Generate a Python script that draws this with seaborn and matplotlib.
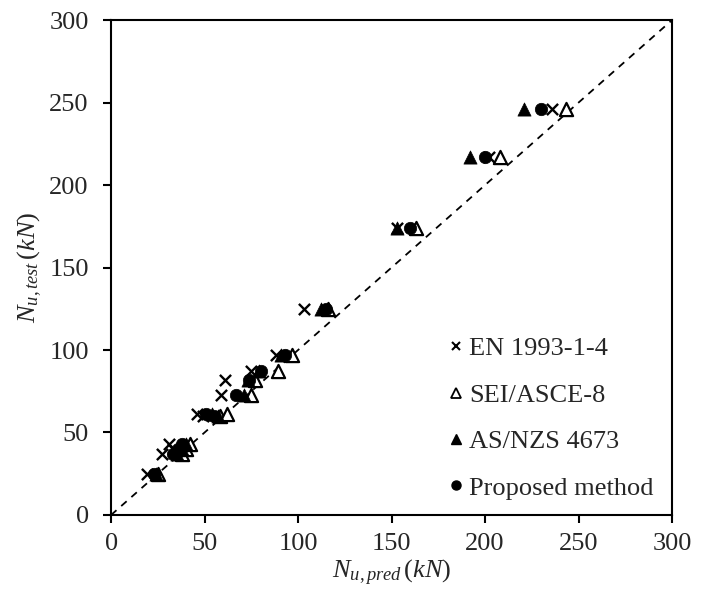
import matplotlib
matplotlib.use("Agg")
import matplotlib.pyplot as plt
import seaborn as sns
from matplotlib.lines import Line2D

sns.set_theme(style="white")
plt.rcParams['font.family'] = ['Liberation Serif', 'DejaVu Serif']
plt.rcParams['mathtext.fontset'] = 'custom'
plt.rcParams['mathtext.rm'] = 'Liberation Serif'
plt.rcParams['mathtext.it'] = 'Liberation Serif:italic'
plt.rcParams['mathtext.bf'] = 'Liberation Serif:bold'

# Test capacities (kN)
n_test = [25, 37, 40, 43, 60, 61, 73, 82, 87, 97, 125, 174, 217, 246]
# Predicted capacities (kN) by method
pred_en = [19, 27, 33, 31, 49, 46, 59, 61, 75, 88, 103, 153, 202, 236]
pred_sei = [25, 38, 40, 42, 58, 62, 75, 77, 89, 97, 116, 163, 208, 243]
pred_as = [24, 35, 38, 40, 57, 54, 71, 73, 79, 91, 112, 153, 192, 221]
pred_prop = [23, 33, 36, 38, 55, 51, 67, 74, 80, 93, 115, 160, 200, 230]

labels = ["EN 1993-1-4", "SEI/ASCE-8", "AS/NZS 4673", "Proposed method"]
ticks = [0, 50, 100, 150, 200, 250, 300]

fig = plt.figure(figsize=(7.12, 6.01), dpi=100)
ax = fig.add_axes([0.156, 0.1431, 0.788, 0.8236])

ax.plot([0, 300], [0, 300], ls=(0, (4, 3.5)), color='black', lw=1.3, zorder=1)

sns.scatterplot(x=pred_en, y=n_test, marker='x', color='black', s=65,
                linewidth=1.7, ax=ax, zorder=3)
sns.scatterplot(x=pred_sei, y=n_test, marker='^', facecolor='white',
                edgecolor='black', s=90, linewidth=1.6, ax=ax, zorder=3)
sns.scatterplot(x=pred_as, y=n_test, marker='^', color='black',
                edgecolor='black', s=90, linewidth=0.5, ax=ax, zorder=3)
sns.scatterplot(x=pred_prop, y=n_test, marker='o', color='black',
                edgecolor='black', s=80, linewidth=0.5, ax=ax, zorder=4)

ax.set_xlim(0, 300)
ax.set_ylim(0, 300)
ax.set_xticks(ticks)
ax.set_yticks(ticks)
ax.set_xticklabels([str(t) for t in ticks])
ax.set_yticklabels([str(t) for t in ticks])
ax.tick_params(axis='both', which='major', direction='out', length=6,
               width=1.5, color='black', labelsize=19,
               bottom=True, left=True)
ax.tick_params(axis='x', pad=7)
ax.tick_params(axis='y', pad=10)
for sp in ax.spines.values():
    sp.set_visible(True)
    sp.set_color('black')
    sp.set_linewidth(1.5)

ax.set_xlabel(r'$N_{u,pred}\,(kN)$', fontsize=19, labelpad=2)
ax.set_ylabel(r'$N_{u,test}\,(kN)$', fontsize=19, labelpad=4)

handles = [
    Line2D([], [], marker='x', ls='', color='black', markersize=6, mew=1.5),
    Line2D([], [], marker='^', ls='', markerfacecolor='white', markeredgecolor='black', markersize=6.5, mew=1.3),
    Line2D([], [], marker='^', ls='', color='black', markersize=6.5),
    Line2D([], [], marker='o', ls='', color='black', markersize=6.5),
]
ax.legend(handles, labels, loc='lower left', bbox_to_anchor=(0.60, 0.031),
          frameon=False, fontsize=19, handlelength=0.6, handletextpad=0.2,
          labelspacing=0.87, borderpad=0, borderaxespad=0)

fig.savefig("out.png", dpi=100)
